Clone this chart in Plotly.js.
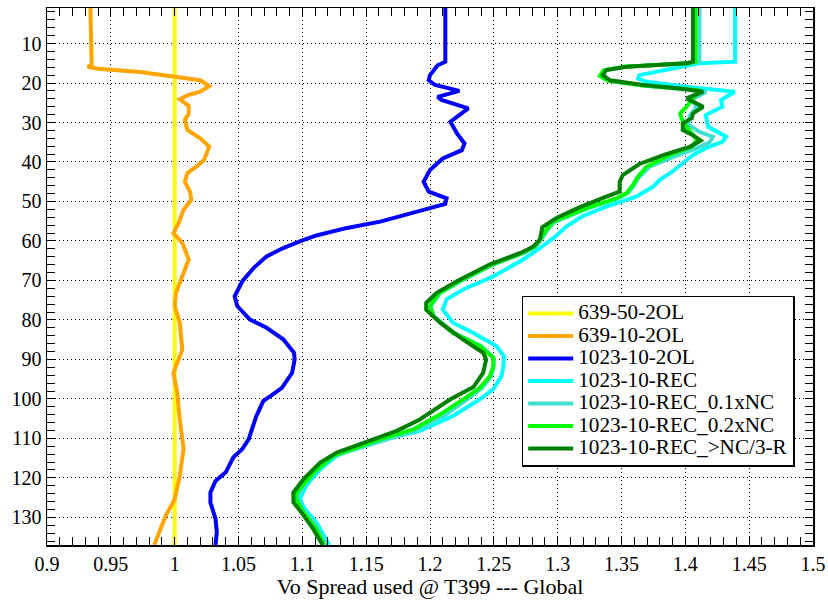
<!DOCTYPE html>
<html>
<head>
<meta charset="utf-8">
<script src="https://cdn.plot.ly/plotly-3.0.1.min.js"></script>
<style>html,body{margin:0;padding:0;background:#fff;}#chart{width:828px;height:600px;}</style>
</head>
<body>
<div id="chart"></div>
<script>
// Series names
const seriesNames = ["639-50-2OL", "639-10-2OL", "1023-10-2OL", "1023-10-REC", "1023-10-REC_0.1xNC", "1023-10-REC_0.2xNC", "1023-10-REC_>NC/3-R"];

// 639-50-2OL
const yYellow = [1, 30, 60, 90, 120, 137];
const xYellow = [1.0, 1.0, 1.0, 1.0, 1.0, 1.0];

// 639-10-2OL
const yOrange = [1, 12.5, 15.3, 15.9, 16.4, 17.2, 18.3, 19.3, 20.8, 22.2, 23.1, 24.1, 25.8, 27.7, 29.4, 31.9, 34.0, 36.1, 39.5, 41.2, 42.8, 45.0, 47.5, 49.6, 52.1, 55.5, 58.0, 60.5, 64.7, 69.0, 73.2, 76.5, 80.7, 87.5, 90.0, 93.4, 98.4, 105.2, 112.7, 119.5, 125.4, 129.6, 137];
const xOrange = [0.934, 0.935, 0.935, 0.932, 0.940, 0.973, 0.999, 1.020, 1.027, 1.020, 1.010, 1.004, 1.011, 1.011, 1.008, 1.010, 1.020, 1.027, 1.023, 1.017, 1.010, 1.008, 1.012, 1.013, 1.007, 1.003, 0.999, 1.006, 1.011, 1.006, 1.001, 1.000, 1.004, 1.006, 1.003, 0.999, 1.002, 1.004, 1.007, 1.004, 1.000, 0.993, 0.984];

// 1023-10-2OL
const yBlue = [1, 14.6, 15.5, 18.0, 19.3, 20.5, 22.0, 23.5, 24.3, 26.4, 29.8, 32.7, 35.3, 37.0, 39.1, 42.0, 45.0, 47.5, 49.2, 50.6, 51.7, 53.5, 55.1, 56.7, 58.6, 60.1, 61.8, 63.9, 66.8, 70.2, 74.0, 76.5, 79.9, 82.0, 84.9, 88.3, 90.0, 93.4, 97.2, 99.3, 100.5, 104.3, 110.2, 112.7, 114.8, 118.6, 120.8, 123.7, 126.2, 130.4, 133.7, 137];
const xBlue = [1.212, 1.212, 1.206, 1.200, 1.199, 1.204, 1.223, 1.206, 1.209, 1.230, 1.216, 1.221, 1.227, 1.225, 1.210, 1.200, 1.195, 1.199, 1.213, 1.212, 1.200, 1.180, 1.161, 1.135, 1.111, 1.098, 1.085, 1.072, 1.062, 1.053, 1.047, 1.049, 1.059, 1.072, 1.085, 1.0935, 1.094, 1.092, 1.084, 1.075, 1.0695, 1.064, 1.058, 1.053, 1.046, 1.040, 1.032, 1.028, 1.028, 1.032, 1.033, 1.032];

// 1023-10-REC
const yCyan = [1, 14.6, 15.0, 18.0, 18.9, 19.7, 21.1, 22.2, 24.3, 26.0, 28.1, 31.1, 33.6, 34.9, 36.5, 38.2, 40.3, 42.4, 44.5, 46.2, 48.7, 51.3, 53.8, 56.3, 58.9, 61.4, 64.7, 69.0, 72.3, 74.8, 77.4, 80.7, 83.3, 86.6, 89.2, 91.7, 94.2, 97.6, 100.1, 104.3, 108.1, 109.8, 111.5, 114.4, 117.8, 122.0, 125.4, 127.9, 131.3, 137];
const xCyan = [1.439, 1.439, 1.411, 1.364, 1.363, 1.3695, 1.406, 1.4386, 1.428, 1.429, 1.416, 1.418, 1.432, 1.429, 1.416, 1.406, 1.398, 1.390, 1.380, 1.375, 1.362, 1.338, 1.319, 1.307, 1.298, 1.288, 1.273, 1.2495, 1.226, 1.213, 1.210, 1.218, 1.234, 1.252, 1.258, 1.2575, 1.256, 1.2495, 1.239, 1.218, 1.192, 1.169, 1.148, 1.127, 1.114, 1.103, 1.098, 1.102, 1.111, 1.121];

// 1023-10-REC_0.1xNC
const yTurq = [1, 14.6, 15.0, 15.9, 16.8, 18.2, 19.4, 20.6, 22.2, 24.2, 26.0, 28.0, 30.5, 32.5, 33.6, 35.0, 36.6, 38.5, 41.2, 44.1, 45.8, 47.9, 49.2, 51.7, 55.1, 57.2, 59.7, 61.4, 63.1, 65.9, 70.2, 73.2, 76.5, 79.1, 83.3, 86.6, 89.6, 91.7, 94.2, 97.2, 100.1, 104.0, 108.0, 111.0, 114.4, 117.8, 122.0, 125.0, 128.0, 131.3, 137];
const xTurq = [1.411, 1.411, 1.403, 1.353, 1.337, 1.334, 1.340, 1.368, 1.4165, 1.405, 1.409, 1.404, 1.402, 1.412, 1.4216, 1.419, 1.408, 1.392, 1.372, 1.363, 1.360, 1.355, 1.347, 1.324, 1.298, 1.292, 1.287, 1.283, 1.273, 1.250, 1.224, 1.208, 1.2005, 1.203, 1.219, 1.240, 1.250, 1.250, 1.248, 1.241, 1.229, 1.212, 1.189, 1.160, 1.125, 1.112, 1.101, 1.096, 1.100, 1.109, 1.119];

// 1023-10-REC_0.2xNC
const yLime = [1, 14.6, 15.0, 15.9, 16.8, 18.2, 19.4, 20.6, 21.8, 24.5, 26.0, 27.7, 29.0, 31.1, 32.7, 34.4, 36.1, 38.2, 41.2, 44.1, 45.8, 47.9, 49.2, 51.7, 55.1, 57.2, 59.7, 61.4, 63.1, 65.9, 70.2, 73.2, 76.5, 79.1, 83.3, 86.6, 89.6, 91.7, 94.2, 97.2, 100.1, 103.9, 107.7, 110.2, 114.4, 118.6, 123.7, 125.4, 128.8, 133.0, 137];
const xLime = [1.408, 1.408, 1.402, 1.352, 1.336, 1.333, 1.339, 1.366, 1.411, 1.405, 1.401, 1.396, 1.397, 1.401, 1.405, 1.409, 1.405, 1.388, 1.3695, 1.362, 1.359, 1.354, 1.346, 1.3225, 1.2964, 1.291, 1.286, 1.282, 1.272, 1.249, 1.223, 1.207, 1.200, 1.2026, 1.218, 1.239, 1.2495, 1.2495, 1.247, 1.239, 1.226, 1.208, 1.187, 1.161, 1.124, 1.109, 1.0956, 1.095, 1.101, 1.111, 1.117];

// 1023-10-REC_>NC/3-R
const yDark = [1, 14.6, 15.0, 15.9, 16.7, 18.0, 19.3, 20.5, 21.4, 22.2, 23.9, 25.2, 26.0, 27.7, 28.9, 30.2, 31.9, 33.2, 34.6, 36.1, 38.0, 40.5, 43.3, 45.0, 47.5, 48.9, 51.5, 54.2, 56.5, 59.7, 61.4, 63.1, 65.9, 70.2, 73.2, 75.7, 77.4, 80.7, 85.0, 88.3, 90.0, 93.4, 97.0, 100.1, 105.2, 108.1, 111.1, 113.6, 116.1, 120.3, 123.7, 126.2, 128.8, 133.0, 137];
const xDark = [1.406, 1.406, 1.401, 1.354, 1.338, 1.3355, 1.341, 1.367, 1.396, 1.414, 1.401, 1.410, 1.414, 1.406, 1.405, 1.398, 1.398, 1.406, 1.412, 1.404, 1.385, 1.364, 1.351, 1.3486, 1.3486, 1.337, 1.317, 1.299, 1.288, 1.286, 1.281, 1.2704, 1.247, 1.221, 1.205, 1.197, 1.197, 1.208, 1.226, 1.2416, 1.244, 1.2416, 1.234, 1.216, 1.192, 1.174, 1.148, 1.127, 1.114, 1.101, 1.093, 1.093, 1.0995, 1.1086, 1.116];

const xs = [xYellow, xOrange, xBlue, xCyan, xTurq, xLime, xDark];
const ys = [yYellow, yOrange, yBlue, yCyan, yTurq, yLime, yDark];
const colors = ["#ffff00", "#ffa500", "#0000ff", "#00ffff", "#40e0d0", "#00ff00", "#008000"];

function esc(s) { return s.replace(/&/g, "&amp;").replace(/</g, "&lt;").replace(/>/g, "&gt;"); }

const traces = seriesNames.map((n, i) => ({
  type: "scatter", mode: "lines",
  name: '<span style="font-size:21.2px">' + esc(n) + '</span>',
  x: xs[i], y: ys[i],
  line: {color: colors[i], width: 4, shape: "linear"}
}));

const FAMILY = "Liberation Serif";
const tickFont = {family: FAMILY, size: 20, color: "#000"};
const titleFont = {family: FAMILY, size: 22, color: "#000"};

const layout = {
  width: 828, height: 600,
  margin: {l: 47, r: 15, t: 8, b: 55},
  paper_bgcolor: "#fff", plot_bgcolor: "#fff",
  font: {family: FAMILY, size: 20, color: "#000"},
  showlegend: true,
  legend: {
    x: 0.6197, y: 0.4643, xanchor: "left", yanchor: "top",
    bordercolor: "#000", borderwidth: 1.5, bgcolor: "#fff",
    font: {family: FAMILY, size: 15, color: "#000"}, tracegroupgap: 0,
    itemwidth: 45
  },
  xaxis: {
    range: [0.9, 1.5], dtick: 0.05, tick0: 0.9,
    ticks: "inside", ticklen: 8, tickwidth: 1, tickcolor: "#000",
    showline: true, linecolor: "#000", linewidth: 1.5, mirror: "allticks",
    showgrid: true, gridcolor: "#000", gridwidth: 1, griddash: "1px,3px",
    zeroline: false,
    tickfont: tickFont,
    minor: {dtick: 0.01, ticks: "inside", ticklen: 8, tickcolor: "#000", showgrid: false},
    title: {text: "Vo Spread used @ T399 --- Global", font: titleFont, standoff: 5}
  },
  yaxis: {
    range: [137, 1], dtick: 10, tick0: 0,
    ticks: "inside", ticklen: 8, tickwidth: 1, tickcolor: "#000",
    showline: true, linecolor: "#000", linewidth: 1.5, mirror: "allticks",
    showgrid: true, gridcolor: "#000", gridwidth: 1, griddash: "1px,3px",
    zeroline: false,
    tickfont: tickFont,
    minor: {dtick: 2, ticks: "inside", ticklen: 8, tickcolor: "#000", showgrid: false}
  }
};

Plotly.newPlot("chart", traces, layout, {displayModeBar: false, staticPlot: true});
</script>
</body>
</html>
